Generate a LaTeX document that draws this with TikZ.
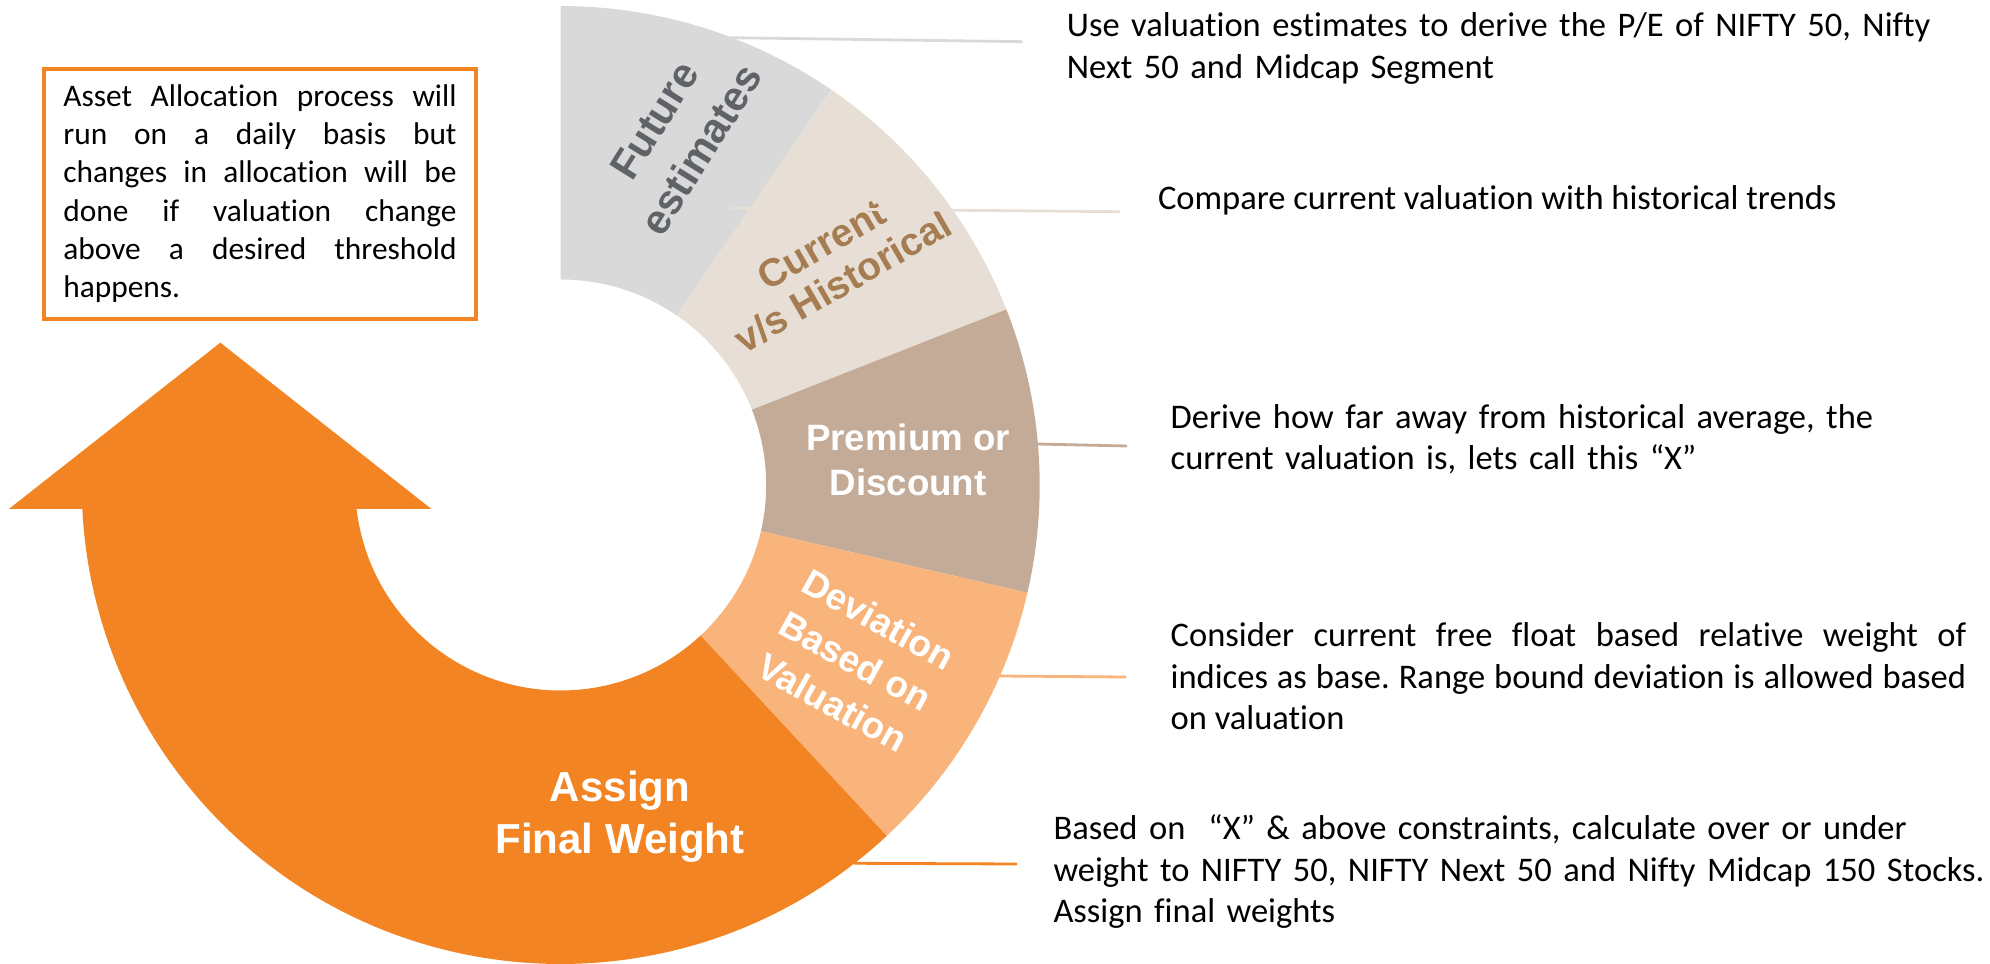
\documentclass[tikz,border=0pt]{standalone}
\usepackage{fontspec}
\setmainfont{Carlito}[Ligatures={TeX,NoCommon}]
\newfontfamily\segfont{Liberation Sans}
\usetikzlibrary{calc}
\frenchspacing

\definecolor{futgray}{HTML}{D9D9D9}
\definecolor{futtext}{HTML}{5F6368}
\definecolor{curbeige}{HTML}{E7DFD5}
\definecolor{curtext}{HTML}{A67C52}
\definecolor{premtan}{HTML}{C4AB97}
\definecolor{devorange}{HTML}{F8B47A}
\definecolor{assignorange}{HTML}{F38424}

\tikzset{
  seglabel/.style n args={2}{font=\segfont\bfseries\fontsize{#1}{#2}\selectfont, align=center, inner sep=0pt},
  desc/.style={font=\fontsize{34.5}{41.5}\selectfont, inner sep=0pt, anchor=base west},
  lead/.style={line width=2.8pt}
}

\begin{document}
\begin{tikzpicture}[x=1pt,y=1pt]
  \useasboundingbox (0,0) rectangle (1990,964);
  \coordinate (cen) at (560.7,479);

  % ring
  \foreach \a/\b/\c in {90/55.6/futgray,55.6/21.5/curbeige,21.5/-13/premtan,-13/-47.1/devorange}
    \fill[\c] ($(cen)+(\a:479)$) arc[start angle=\a,end angle=\b,radius=479]
      -- ($(cen)+(\b:205.5)$) arc[start angle=\b,end angle=\a,radius=205.5] -- cycle;
  \fill[assignorange] ($(cen)+(-47.1:479)$) arc[start angle=-47.1,end angle=-177.13,radius=479]
    -- (8.9,455) -- (220.3,621.3) -- (431.4,455) -- ($(cen)+(186.7:205.5)$)
    arc[start angle=186.7,end angle=312.9,radius=205.5] -- cycle;

  \node[seglabel={41.5}{55}, text=futtext, rotate=58] (fut) at (677.8,828.7) {Future\\estimates};
  \node[seglabel={39}{43}, text=curtext, rotate=30] (cur) at (832.4,700.7) {Current\\v/s Historical};
  \node[seglabel={36.7}{45}, text=white] (prem) at (908,504) {Premium or\\Discount};
  \node[seglabel={37}{47.4}, text=white, rotate=-29] (dev) at (855.5,303) {Deviation\\Based on\\Valuation};
  \node[seglabel={42}{51.5}, text=white] (assign) at (620,147.3) {Assign\\Final Weight};

  % note box
  \node[draw=assignorange, line width=4pt, text width=393.3pt, inner xsep=19.6pt, inner ysep=0pt,
    minimum height=250pt, align=justify, font=\fontsize{31.4}{38.3}\selectfont] (note) at (260,770.3)
    {Asset Allocation process will\linebreak run on a daily basis but\linebreak changes in allocation will be\linebreak done if valuation change\linebreak above a desired threshold\linebreak happens.};

  % descriptions
  \node[desc, text width=915pt, align=left] (t1) at (1066.7,927.3)
    {Use valuation estimates to derive the P/E of NIFTY 50, Nifty\\Next 50 and Midcap Segment};
  \node[desc] (t2) at (1157.8,754) {Compare current valuation with historical trends};
  \node[desc, text width=815pt, align=left] (t3) at (1170.5,535.7)
    {Derive how far away from historical average, the\\current valuation is, lets call this ``X''};
  \node[desc, text width=795.5pt, align=justify] (t4) at (1170.5,317.3)
    {Consider current free float based relative weight of\linebreak indices as base. Range bound deviation is allowed based\linebreak on valuation};
  \node[desc, text width=935pt, align=left] (t5) at (1053.3,124)
    {Based on\ \ ``X'' \& above constraints, calculate over or under\\weight to NIFTY 50, NIFTY Next 50 and Nifty Midcap 150 Stocks.\\Assign final weights};

  % leaders
  \coordinate (fut-a) at (730,926.3);     \coordinate (fut-b) at (1022.7,922.3);
  \coordinate (cur-a) at (730.7,755.7);   \coordinate (cur-b) at (1120,752.3);
  \coordinate (prem-a) at (1036,520);     \coordinate (prem-b) at (1127,518);
  \coordinate (dev-a) at (998,288);       \coordinate (dev-b) at (1126,287);
  \coordinate (assign-a) at (854,100.7);  \coordinate (assign-b) at (1017,100);
  \draw[lead, futgray] (fut-a) -- (fut-b);
  \draw[lead, curbeige] (cur-a) -- (cur-b);
  \draw[lead, premtan] (prem-a) -- (prem-b);
  \draw[lead, devorange] (dev-a) -- (dev-b);
  \draw[lead, assignorange] (assign-a) -- (assign-b);
\end{tikzpicture}
\end{document}
